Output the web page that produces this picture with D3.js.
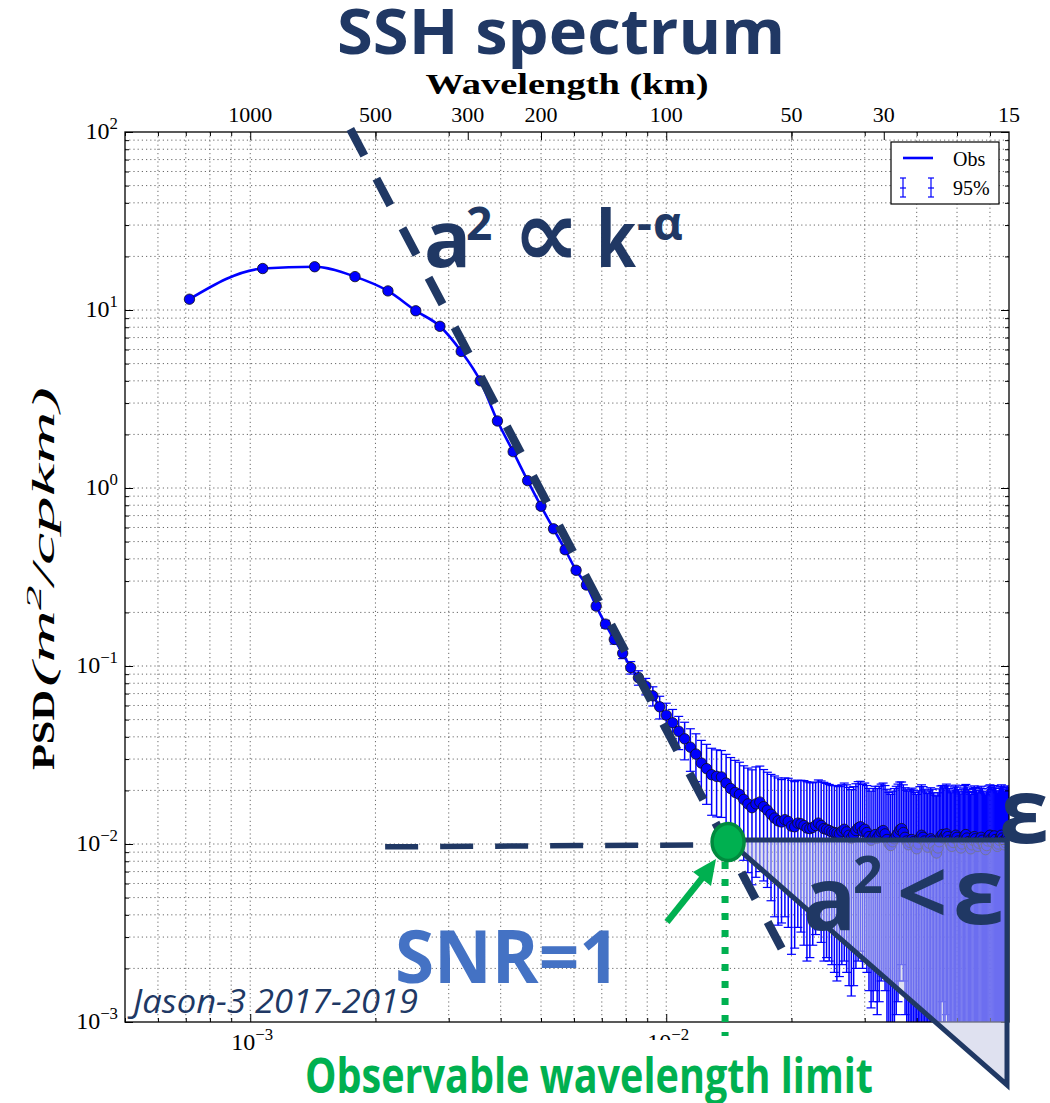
<!DOCTYPE html>
<html>
<head>
<meta charset="utf-8">
<script src="https://cdn.jsdelivr.net/npm/d3@7"></script>
<style>
  body { margin: 0; background: #fff; }
  svg { display: block; }
</style>
</head>
<body>
<svg id="chart" width="1050" height="1103"></svg>
<script>
// ---- Spectrum: Jason-3 along-track SSH, 2017-2019 ----
// Frequency bins are multiples of the fundamental wavenumber dk (cpkm), starting at bin 2.
const firstBin = 2;
const dk = 1 / 2800;

// Power spectral density (m^2/cpkm), one value per bin
const psd = [
  11.5, 17.1, 17.5, 15.4, 12.8, 9.9, 8.1, 5.85, 4.0, 2.38,
  1.60, 1.10, 0.79, 0.59, 0.45, 0.345, 0.285, 0.217, 0.172, 0.141,
  0.118, 0.098, 0.086, 0.077, 0.068, 0.059, 0.053, 0.048, 0.043, 0.039,
  0.035, 0.032, 0.0285, 0.0265, 0.0245, 0.0240, 0.0238, 0.0220, 0.0205, 0.0195,
  0.0190, 0.0178, 0.0168, 0.0160, 0.0168, 0.0172, 0.0162, 0.0155, 0.0147, 0.0140,
  0.0135, 0.0133, 0.0137, 0.0134, 0.0126, 0.0125, 0.0131, 0.0130, 0.0127, 0.0123,
  0.0122, 0.0124, 0.0127, 0.0131, 0.0127, 0.0122, 0.0121, 0.0119, 0.0117, 0.0116,
  0.0115,
  0.0114, 0.0118, 0.0121, 0.0117, 0.0112, 0.0108, 0.0113, 0.0119,
  0.0123, 0.0125, 0.0118, 0.0121, 0.0116, 0.0110, 0.0105, 0.0109, 0.0113, 0.0108,
  0.0112, 0.0117, 0.0119, 0.0114, 0.0106, 0.0101, 0.0098, 0.0103, 0.0107, 0.0111,
  0.0115, 0.0120, 0.0122, 0.0116, 0.0109, 0.0104, 0.0099, 0.0102, 0.0106, 0.0103,
  0.0098, 0.0094, 0.0100, 0.0108, 0.0112, 0.0109, 0.0104, 0.0099, 0.0096, 0.0101,
  0.0107, 0.0104, 0.0097, 0.0092, 0.0089, 0.0095, 0.0103, 0.0110, 0.0113, 0.0108,
  0.0111, 0.0114, 0.0110, 0.0105, 0.0100, 0.0097, 0.0102, 0.0108, 0.0112, 0.0109,
  0.0104, 0.0099, 0.0095, 0.0100, 0.0106, 0.0111, 0.0113, 0.0108, 0.0103, 0.0098,
  0.0094, 0.0099, 0.0105, 0.0110, 0.0107, 0.0102, 0.0097, 0.0101, 0.0106, 0.0109,
  0.0105, 0.0100, 0.0096, 0.0093, 0.0098, 0.0104, 0.0110, 0.0112, 0.0107, 0.0103,
  0.0108, 0.0111, 0.0106, 0.0101, 0.0097, 0.0100, 0.0105, 0.0109, 0.0112, 0.0108,
  0.0104, 0.0099, 0.0102, 0.0107, 0.0110, 0.0106
];

// Half-width of the 95% confidence interval, same bins
const ci95 = [
  0.40, 0.60, 0.60, 0.50, 0.45, 0.36, 0.30, 0.21, 0.15, 0.090,
  0.060, 0.042, 0.031, 0.023, 0.018, 0.014, 0.012, 0.0095,
  0.0085, 0.0082, 0.0080, 0.0079, 0.0080, 0.0082, 0.0084, 0.0086, 0.0088, 0.0090,
  0.0091, 0.0093, 0.0094, 0.0096, 0.0097, 0.0098, 0.0100, 0.0098, 0.0097, 0.0099,
  0.0101, 0.0100, 0.0098, 0.0097, 0.0099, 0.0101, 0.0103, 0.0102, 0.0100, 0.0098,
  0.0099, 0.0101, 0.0100, 0.0097, 0.0098, 0.0100, 0.0102, 0.0099, 0.0097, 0.0098,
  0.0100, 0.0101, 0.0099, 0.0097, 0.0096, 0.0098, 0.0099, 0.0100, 0.0098, 0.0097,
  0.0096, 0.0097, 0.0098, 0.0096, 0.0097, 0.0099, 0.0098, 0.0096, 0.0094, 0.0097,
  0.0099, 0.0101, 0.0100, 0.0098, 0.0099, 0.0097, 0.0095, 0.0093, 0.0096, 0.0098,
  0.0097, 0.0099, 0.0100, 0.0101, 0.0099, 0.0097, 0.0094, 0.0092, 0.0095, 0.0098,
  0.0100, 0.0102, 0.0103, 0.0101, 0.0099, 0.0098, 0.0097, 0.0099, 0.0101, 0.0100,
  0.0098, 0.0097, 0.0096, 0.0099, 0.0102, 0.0103, 0.0101, 0.0099, 0.0097, 0.0096,
  0.0098, 0.0100, 0.0099, 0.0097, 0.0096, 0.0097, 0.0099, 0.0101, 0.0102, 0.0100,
  0.0099, 0.0101, 0.0103, 0.0102, 0.0100, 0.0098, 0.0097, 0.0099, 0.0101, 0.0102,
  0.0100, 0.0098, 0.0097, 0.0096, 0.0098, 0.0100, 0.0102, 0.0103, 0.0101, 0.0099,
  0.0097, 0.0096, 0.0098, 0.0100, 0.0102, 0.0101, 0.0099, 0.0097, 0.0098, 0.0100,
  0.0102, 0.0100, 0.0098, 0.0097, 0.0096, 0.0098, 0.0100, 0.0102, 0.0103, 0.0101,
  0.0099, 0.0101, 0.0102, 0.0100, 0.0098, 0.0097, 0.0098, 0.0100, 0.0102, 0.0103,
  0.0101, 0.0099, 0.0098, 0.0099, 0.0101, 0.0102, 0.0100
];

// Axis ticks
const wavelengthTicks = [1000, 500, 300, 200, 100, 50, 30, 15];   // km, top axis
const freqDecades = [1e-3, 1e-2];                                   // cpkm, bottom axis labels
const psdDecades = [1e-3, 1e-2, 1e-1, 1e0, 1e1, 1e2];              // left axis labels

// Annotations (data units)
const slopeFit = { k0: 0.01, a0: 0.0441, alpha: 4.44, kStart: 1.74e-3, kEnd: 1.93e-2 };
const noiseLevel = 0.01053;      // epsilon
const kSnr = 0.01408;            // wavenumber where SNR = 1
const kMax = 1 / 15;
const triangleFoot = 4.43e-4;

// ---- layout ----
const navy = "#203864";
const green = "#00b050";
const serif = "'Liberation Serif', 'DejaVu Serif', serif";
const sans = "'Open Sans', 'Noto Sans', 'DejaVu Sans', sans-serif";
const plot = { left: 125, right: 1009, top: 132, bottom: 1022 };

const svg = d3.select("#chart");
const x = d3.scaleLog().domain([5e-4, kMax]).range([plot.left, plot.right]);
const y = d3.scaleLog().domain([1e-3, 1e2]).range([plot.bottom, plot.top]);

const data = psd.map((v, i) => ({ k: (i + firstBin) * dk, v, e: ci95[i] }));

svg.append("defs").append("clipPath").attr("id", "plotClip")
  .append("rect")
  .attr("x", plot.left).attr("y", plot.top)
  .attr("width", plot.right - plot.left).attr("height", plot.bottom - plot.top);

svg.append("rect").attr("width", 1050).attr("height", 1103).attr("fill", "#fff");

// ---- grid ----
const xTicksAll = x.ticks();
const yTicksAll = y.ticks();
const grid = svg.append("g").attr("stroke", "#222").attr("stroke-width", 0.9)
  .attr("stroke-dasharray", "1.2,3").attr("opacity", 0.75);
grid.selectAll("line.v").data(xTicksAll.filter(d => x(d) > plot.left + 1 && x(d) < plot.right - 1))
  .join("line").attr("x1", d => x(d)).attr("x2", d => x(d))
  .attr("y1", plot.top).attr("y2", plot.bottom);
grid.selectAll("line.h").data(yTicksAll.filter(d => y(d) > plot.top + 1 && y(d) < plot.bottom - 1))
  .join("line").attr("y1", d => y(d)).attr("y2", d => y(d))
  .attr("x1", plot.left).attr("x2", plot.right);

// ---- error bars, line, markers ----
const dataLayer = svg.append("g").attr("clip-path", "url(#plotClip)");
const bars = dataLayer.append("g").attr("stroke", "#0000ff").attr("stroke-width", 1.5);
const capHalf = 4.5;
data.forEach(d => {
  const up = y(d.v + d.e);
  const lowVal = d.v - d.e;
  const lo = lowVal > 0 ? y(lowVal) : plot.bottom + 40;
  const cx = x(d.k);
  bars.append("line").attr("x1", cx).attr("x2", cx).attr("y1", up).attr("y2", lo);
  bars.append("line").attr("x1", cx - capHalf).attr("x2", cx + capHalf).attr("y1", up).attr("y2", up)
    .attr("stroke-width", 1.2);
  bars.append("line").attr("x1", cx - capHalf).attr("x2", cx + capHalf).attr("y1", lo).attr("y2", lo)
    .attr("stroke-width", 1.2);
});

const line = d3.line().x(d => x(d.k)).y(d => y(d.v)).curve(d3.curveMonotoneX);
dataLayer.append("path").datum(data).attr("d", line)
  .attr("fill", "none").attr("stroke", "#0000ff").attr("stroke-width", 2.6);

dataLayer.append("g").selectAll("circle").data(data).join("circle")
  .attr("cx", d => x(d.k)).attr("cy", d => y(d.v)).attr("r", 5.2)
  .attr("fill", "#0000ff").attr("stroke", "#111").attr("stroke-width", 0.8);

// ---- ticks (inward, all four sides) ----
const majorX = xTicksAll.filter(d => Math.abs(Math.log10(d) - Math.round(Math.log10(d))) < 1e-9);
const minorX = xTicksAll.filter(d => !majorX.includes(d));
const majorY = psdDecades;
const minorY = yTicksAll.filter(d => !majorY.includes(d));

function axisTicks(axisFn, scale, values, size, transform) {
  const g = svg.append("g").attr("transform", transform)
    .call(axisFn(scale).tickValues(values).tickSize(-size).tickFormat(""));
  g.select(".domain").remove();
  g.selectAll(".tick line").attr("stroke", "#000").attr("stroke-width", 1);
  return g;
}
axisTicks(d3.axisBottom, x, majorX, 8, `translate(0,${plot.bottom})`);
axisTicks(d3.axisBottom, x, minorX, 4, `translate(0,${plot.bottom})`);
axisTicks(d3.axisTop, x, minorX, 4, `translate(0,${plot.top})`);
axisTicks(d3.axisTop, x, wavelengthTicks.map(l => 1 / l).filter(k => k < kMax * 0.999), 8, `translate(0,${plot.top})`);
axisTicks(d3.axisLeft, y, majorY, 8, `translate(${plot.left},0)`);
axisTicks(d3.axisLeft, y, minorY, 4, `translate(${plot.left},0)`);
axisTicks(d3.axisRight, y, majorY, 8, `translate(${plot.right},0)`);
axisTicks(d3.axisRight, y, minorY, 4, `translate(${plot.right},0)`);

// frame
svg.append("rect").attr("x", plot.left).attr("y", plot.top)
  .attr("width", plot.right - plot.left).attr("height", plot.bottom - plot.top)
  .attr("fill", "none").attr("stroke", "#000").attr("stroke-width", 1.3);

// ---- tick labels ----
function powerLabel(sel, exp, size) {
  sel.append("tspan").text("10").attr("font-size", size);
  sel.append("tspan").text(exp < 0 ? "\u2212" + (-exp) : String(exp))
    .attr("font-size", size * 0.7).attr("dy", -size * 0.42);
}
psdDecades.forEach(d => {
  const t = svg.append("text").attr("x", plot.left - 7).attr("y", y(d) + 7)
    .attr("text-anchor", "end").attr("font-family", serif).attr("fill", "#000");
  powerLabel(t, Math.round(Math.log10(d)), 24);
});
freqDecades.forEach(d => {
  const t = svg.append("text").attr("x", x(d) + 2).attr("y", plot.bottom + 28)
    .attr("text-anchor", "middle").attr("font-family", serif).attr("fill", "#000");
  powerLabel(t, Math.round(Math.log10(d)), 24);
});
svg.append("g").selectAll("text").data(wavelengthTicks).join("text")
  .attr("x", l => x(1 / l)).attr("y", plot.top - 10)
  .attr("text-anchor", "middle").attr("font-family", serif).attr("font-size", 22)
  .text(l => l);

svg.append("text").attr("x", 567).attr("y", 94).attr("text-anchor", "middle")
  .attr("font-family", serif).attr("font-weight", "bold").attr("font-size", 29)
  .attr("textLength", 283).attr("lengthAdjust", "spacingAndGlyphs")
  .text("Wavelength (km)");

// y-axis title
const yTitle = svg.append("g").attr("transform", "translate(54,770) rotate(-90)");
yTitle.append("text").attr("x", 0).attr("y", 0).attr("font-family", serif)
  .attr("font-weight", "bold").attr("font-size", 31)
  .attr("textLength", 80).attr("lengthAdjust", "spacingAndGlyphs").text("PSD");
const yUnits = yTitle.append("text").attr("x", 83).attr("y", 0)
  .attr("font-family", serif).attr("font-style", "italic").attr("font-size", 31)
  .attr("textLength", 300).attr("lengthAdjust", "spacingAndGlyphs");
yUnits.append("tspan").text("(m");
yUnits.append("tspan").text("2").attr("font-size", 21).attr("dy", -13);
yUnits.append("tspan").text("/cpkm)").attr("dy", 13);

// legend
const lg = svg.append("g");
lg.append("rect").attr("x", 891).attr("y", 142).attr("width", 108).attr("height", 62)
  .attr("fill", "#fff").attr("stroke", "#000").attr("stroke-width", 1.2);
lg.append("line").attr("x1", 903).attr("x2", 933).attr("y1", 158).attr("y2", 158)
  .attr("stroke", "#0000ff").attr("stroke-width", 2.6);
lg.append("text").attr("x", 953).attr("y", 166).attr("font-family", serif)
  .attr("font-size", 20).text("Obs");
[903, 931].forEach(cx => {
  const e = lg.append("g").attr("stroke", "#0000ff").attr("stroke-width", 1.2);
  e.append("line").attr("x1", cx).attr("x2", cx).attr("y1", 178).attr("y2", 197);
  [178, 188, 197].forEach(yy => e.append("line").attr("x1", cx - 3).attr("x2", cx + 3).attr("y1", yy).attr("y2", yy));
});
lg.append("text").attr("x", 953).attr("y", 195).attr("font-family", serif)
  .attr("font-size", 20).text("95%");

// ---- annotations ----
const ann = svg.append("g");

// white backing of the bottom caption
ann.append("rect").attr("x", 296).attr("y", 1040).attr("width", 588).attr("height", 63).attr("fill", "#fff");

// noise triangle: PSD below the noise floor epsilon
const tri = [[x(kSnr), y(noiseLevel)], [x(kMax), y(noiseLevel)], [x(kMax), y(triangleFoot)]];
ann.append("polygon").attr("points", tri.map(p => p.join(",")).join(" "))
  .attr("fill", "rgb(196,201,228)").attr("fill-opacity", 0.55);
ann.append("path")
  .attr("d", `M${tri[0][0] + 8},${tri[0][1]} L${tri[1][0] - 2},${tri[1][1]} L${tri[2][0] - 2},${tri[2][1]} L${tri[0][0]},${tri[0][1]} Z`)
  .attr("fill", "none").attr("stroke", navy).attr("stroke-width", 5).attr("stroke-linejoin", "miter");

// power-law slope k^-alpha
const fitVal = k => slopeFit.a0 * Math.pow(k / slopeFit.k0, -slopeFit.alpha);
ann.append("line")
  .attr("x1", x(slopeFit.kStart)).attr("y1", y(fitVal(slopeFit.kStart)))
  .attr("x2", x(slopeFit.kEnd)).attr("y2", y(fitVal(slopeFit.kEnd)))
  .attr("stroke", navy).attr("stroke-width", 8.5).attr("stroke-dasharray", "30,26");

// dashed noise level to the left of SNR=1
ann.append("line")
  .attr("x1", x(2.11e-3)).attr("y1", y(noiseLevel * 0.915))
  .attr("x2", x(kSnr) - 14).attr("y2", y(noiseLevel * 0.94))
  .attr("stroke", navy).attr("stroke-width", 5.5).attr("stroke-dasharray", "33,22");

// vertical dotted line at the observable wavelength limit
ann.append("line").attr("x1", x(kSnr) - 3).attr("x2", x(kSnr) - 3)
  .attr("y1", y(noiseLevel) + 22).attr("y2", 1036)
  .attr("stroke", green).attr("stroke-width", 7).attr("stroke-dasharray", "7,10");

// arrow towards the SNR=1 point
ann.append("line").attr("x1", 667).attr("y1", 922).attr("x2", 703).attr("y2", 877)
  .attr("stroke", green).attr("stroke-width", 6.5);
ann.append("polygon").attr("points", "716,859 693,872 711,886").attr("fill", green);

ann.append("ellipse").attr("cx", x(kSnr)).attr("cy", y(noiseLevel) + 2)
  .attr("rx", 16).attr("ry", 18.5)
  .attr("fill", green).attr("stroke", "#008a3e").attr("stroke-width", 3.5);

// text annotations
ann.append("text").attr("x", 561).attr("y", 54).attr("text-anchor", "middle")
  .attr("font-family", sans).attr("font-weight", "bold").attr("font-size", 62)
  .attr("fill", navy).attr("textLength", 448).attr("lengthAdjust", "spacingAndGlyphs")
  .text("SSH spectrum");

function bold(txt, px, py, size, fam) {
  return ann.append("text").attr("x", px).attr("y", py).attr("font-family", fam || sans)
    .attr("font-weight", "bold").attr("font-size", size).attr("fill", navy).text(txt);
}
bold("a", 424, 267, 78);
bold("2", 466, 240, 46);
bold("\u221d", 513, 266, 94, "'DejaVu Sans', sans-serif");
bold("k", 596, 267, 78).attr("textLength", 40).attr("lengthAdjust", "spacingAndGlyphs");
bold("-", 637, 240, 46);
bold("\u03b1", 653, 240, 46);

bold("a", 803, 930, 88);
bold("2", 853, 893, 52);
bold("<", 897, 924, 88);
bold("\u03b5", 953, 924, 92);
bold("\u03b5", 999, 843, 90);

ann.append("text").attr("x", 395).attr("y", 983)
  .attr("font-family", sans).attr("font-weight", "bold").attr("font-size", 74)
  .attr("fill", "#4472c4").attr("textLength", 225).attr("lengthAdjust", "spacingAndGlyphs")
  .text("SNR=1");

ann.append("text").attr("x", 133).attr("y", 1013)
  .attr("font-family", sans).attr("font-style", "italic").attr("font-size", 33)
  .attr("fill", navy).attr("textLength", 285).attr("lengthAdjust", "spacingAndGlyphs")
  .text("Jason-3 2017-2019");

ann.append("text").attr("x", 305).attr("y", 1093)
  .attr("font-family", sans).attr("font-weight", "bold").attr("font-size", 48)
  .attr("fill", green).attr("textLength", 568).attr("lengthAdjust", "spacingAndGlyphs")
  .text("Observable wavelength limit");
</script>
</body>
</html>
